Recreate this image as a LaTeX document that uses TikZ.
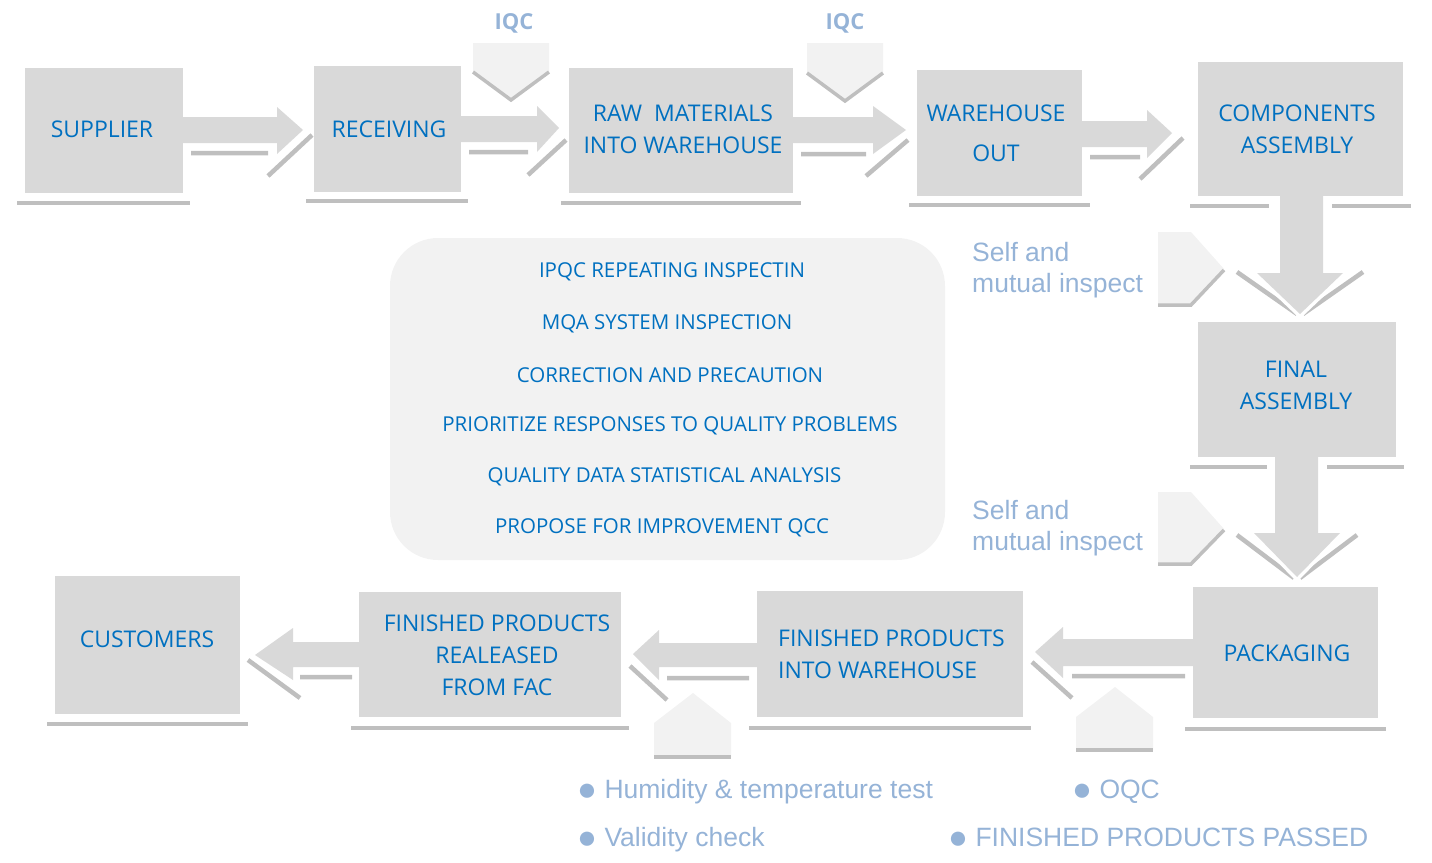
\documentclass[tikz,border=0pt]{standalone}
\usepackage{fontspec}
\setmainfont{Open Sans}
\newfontfamily\arialf{Liberation Sans}
\definecolor{boxgray}{HTML}{D9D9D9}
\definecolor{shgray}{HTML}{BFBFBF}
\definecolor{lightf}{HTML}{F2F2F2}
\definecolor{txtblue}{HTML}{0070C0}
\definecolor{lblue}{HTML}{95B3D7}
\newcommand{\bigbul}{\raisebox{-2.5pt}{\fontsize{33}{32}\selectfont ●}}
\begin{document}
\begin{tikzpicture}[x=1pt,y=-1pt,
  box/.style={fill=boxgray, inner sep=0pt},
  lbl/.style={text=txtblue, font=\fontsize{23}{32}\selectfont, align=center, inner sep=0pt},
  shline/.style={draw=shgray, line width=4.5pt},
  blockarrow/.style={fill=boxgray, preaction={fill=none, draw=white, line width=7pt, line join=miter}},
  lightshape/.style={fill=lightf},
  ltext/.style={text=lblue, font=\arialf\fontsize{26.5}{32}\selectfont, inner sep=0pt, anchor=base west},
  iqc/.style={text=lblue, font=\bfseries\fontsize{22}{26}\selectfont, inner sep=0pt},
  panel/.style={fill=lightf, rounded corners=48pt, inner sep=0pt},
  ptext/.style={text=txtblue, inner sep=0pt, font=\fontsize{20.5}{24}\selectfont}
]
\useasboundingbox (0,0) rectangle (1432,862);

% central panel
\node[panel, minimum width=555pt, minimum height=322pt] (panel) at (667.5,399) {};
\node[ptext] (p1) at (672,272) {IPQC REPEATING INSPECTIN};
\node[ptext] (p2) at (667,324) {MQA SYSTEM INSPECTION};
\node[ptext] (p3) at (670,375) {CORRECTION AND PRECAUTION};
\node[ptext] (p4) at (670,426) {PRIORITIZE RESPONSES TO QUALITY PROBLEMS};
\node[ptext] (p5) at (664.5,477) {QUALITY DATA STATISTICAL ANALYSIS};
\node[ptext] (p6) at (662,528) {PROPOSE FOR IMPROVEMENT QCC};

% box shadows
\draw[shline] (17,203)--(190,203);
\draw[shline] (306,201)--(468,201);
\draw[shline] (561,203)--(801,203);
\draw[shline] (909,205)--(1090,205);
\draw[shline] (1190,206)--(1269,206) (1332,206)--(1411,206);
\draw[shline] (1190,467)--(1267,467) (1327,467)--(1404,467);
\draw[shline] (1185,729)--(1386,729);
\draw[shline] (749,728)--(1031,728);
\draw[shline] (351,728)--(629,728);
\draw[shline] (47,724)--(248,724);

% arrow shadows
\draw[shline] (191,153)--(268,153) (268,176)--(312,135);
\draw[shline] (469,152)--(528,152) (528,175)--(566,140);
\draw[shline] (801,154)--(866,154) (866,176)--(908,140);
\draw[shline] (1090,157)--(1140,157) (1140,179)--(1183,138);
\draw[shline] (1237,272)--(1297,314) (1363,272)--(1303,314);
\draw[shline] (1237,535)--(1294,578) (1357,535)--(1300,578);
\draw[shline] (1072,676)--(1185,676) (1032,662)--(1072,698);
\draw[shline] (667,678)--(749,678) (630,666)--(667,700);
\draw[shline] (300,677)--(352,677) (248,660)--(300,698);

% block arrows
\path[blockarrow] (183,117)--(277,117)--(277,107)--(303,130)--(277,154)--(277,143)--(183,143)--cycle;
\path[blockarrow] (461,116)--(537,116)--(537,106)--(559,128)--(537,152)--(537,142)--(461,142)--cycle;
\path[blockarrow] (793,117)--(873,117)--(873,106)--(906,130)--(873,154)--(873,143)--(793,143)--cycle;
\path[blockarrow] (1082,121)--(1147,121)--(1147,110)--(1172,133)--(1147,158)--(1147,147)--(1082,147)--cycle;
\path[blockarrow] (1280,196)--(1280,273)--(1257,273)--(1300,314)--(1343,273)--(1323,273)--(1323,196)--cycle;
\path[blockarrow] (1275,457)--(1275,533)--(1254,533)--(1297,577)--(1340,533)--(1318,533)--(1318,457)--cycle;
\path[blockarrow] (1193,639)--(1063,639)--(1063,627)--(1035,652)--(1063,678)--(1063,666)--(1193,666)--cycle;
\path[blockarrow] (757,643)--(659,643)--(659,630)--(633,654)--(659,680)--(659,667)--(757,667)--cycle;
\path[blockarrow] (359,642)--(293,642)--(293,628)--(255,655)--(293,680)--(293,667)--(359,667)--cycle;

% boxes
\node[box, minimum width=158pt, minimum height=125pt] (sup) at (104,130.5) {};
\node[box, minimum width=147pt, minimum height=126pt] (rec) at (387.5,129) {};
\node[box, minimum width=224pt, minimum height=125pt] (raw) at (681,130.5) {};
\node[box, minimum width=165pt, minimum height=126pt] (who) at (999.5,133) {};
\node[box, minimum width=205pt, minimum height=134pt] (comp) at (1300.5,129) {};
\node[box, minimum width=198pt, minimum height=135pt] (fin) at (1297,389.5) {};
\node[box, minimum width=185pt, minimum height=131pt] (pack) at (1285.5,652.5) {};
\node[box, minimum width=266pt, minimum height=126pt] (fpiw) at (890,654) {};
\node[box, minimum width=262pt, minimum height=125pt] (fpr) at (490,654.5) {};
\node[box, minimum width=185pt, minimum height=138pt] (cust) at (147.5,645) {};

% box labels
\node[lbl] (tsup) at (102,129) {SUPPLIER};
\node[lbl] (trec) at (389,129) {RECEIVING};
\node[lbl] (traw) at (683,129) {RAW\ \ MATERIALS\\INTO WAREHOUSE};
\node[lbl, font=\fontsize{23}{40}\selectfont] (twho) at (996,133) {WAREHOUSE\\OUT};
\node[lbl] (tcomp) at (1297,129) {COMPONENTS\\ASSEMBLY};
\node[lbl] (tfin) at (1296,385) {FINAL\\ASSEMBLY};
\node[lbl] (tpack) at (1287,653) {PACKAGING};
\node[lbl, align=left, anchor=west] (tfpiw) at (778,654) {FINISHED PRODUCTS\\INTO WAREHOUSE};
\node[lbl] (tfpr) at (497,655) {FINISHED PRODUCTS\\REALEASED\\FROM FAC};
\node[lbl] (tcust) at (147,639) {CUSTOMERS};

% IQC chevrons
\fill[lightf] (473,43)--(549,43)--(549,71)--(511,99)--(473,71)--cycle;
\draw[shline, line width=3.5pt] (473,72)--(511,100)--(549,72);
\fill[lightf] (807,43)--(883,43)--(883,72)--(845,100)--(807,72)--cycle;
\draw[shline, line width=3.5pt] (807,73)--(845,101)--(883,73);
\node[iqc] (iqc1) at (514,23) {IQC};
\node[iqc] (iqc2) at (845,23) {IQC};

% self and mutual inspect pentagons
\fill[lightf] (1158,232)--(1191,232)--(1224,269)--(1191,304)--(1158,304)--cycle;
\draw[shline, line width=3.5pt] (1158,305)--(1191,305)--(1224,270);
\fill[lightf] (1158,492)--(1191,492)--(1224,529)--(1191,563)--(1158,563)--cycle;
\draw[shline, line width=3.5pt] (1158,564)--(1191,564)--(1224,530);
\node[ltext] (s1a) at (972,261) {Self and};
\node[ltext] (s1b) at (972,292) {mutual inspect};
\node[ltext] (s2a) at (972,519) {Self and};
\node[ltext] (s2b) at (972,550) {mutual inspect};

% up pentagons
\fill[lightf] (654,757)--(654,723)--(693,693)--(731,723)--(731,757)--cycle;
\draw[shline, line width=4pt] (654,757)--(731,757);
\fill[lightf] (1076,750)--(1076,717)--(1115,687)--(1153,717)--(1153,750)--cycle;
\draw[shline, line width=4pt] (1076,750)--(1153,750);

% bottom notes
\node[ltext] (n1) at (577,798) {\bigbul{} Humidity \& temperature test};
\node[ltext] (n2) at (577,846) {\bigbul{} Validity check};
\node[ltext] (n3) at (1072,798) {\bigbul{} OQC};
\node[ltext] (n4) at (948,846) {\bigbul{} FINISHED PRODUCTS PASSED};
\end{tikzpicture}
\end{document}
